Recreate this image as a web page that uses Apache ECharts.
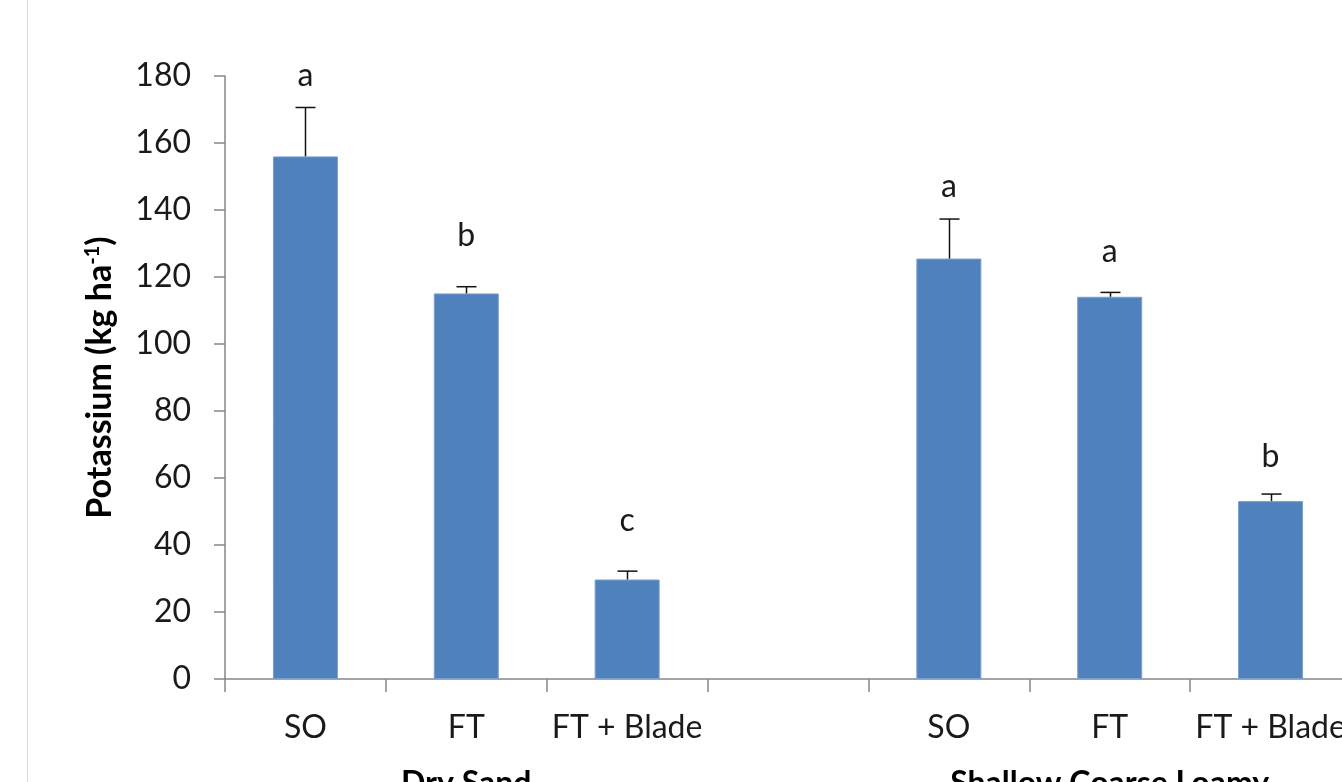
<!DOCTYPE html>
<html>
<head>
<meta charset="utf-8">
<script src="https://cdn.jsdelivr.net/npm/echarts@6/dist/echarts.min.js"></script>
<style>
html,body{margin:0;padding:0;background:#fff;overflow:hidden;width:1342px;height:782px;}
#chart{width:1360px;height:782px;}
</style>
</head>
<body>
<div id="chart"></div>
<script>
// ---- data ----
const categories = ['SO', 'FT', 'FT + Blade', '', 'SO', 'FT', 'FT + Blade'];
const groupLabels = ['', 'Dry Sand', '', '', '', 'Shallow Coarse Loamy', ''];
const potassium = [156, 115.1, 29.7, null, 125.5, 114.1, 53.1];
const stdErr = [14.6, 2.0, 2.5, null, 11.8, 1.3, 2.1];
const letters = ['a', 'b', 'c', '', 'a', 'a', 'b'];
const letterAt = [180, 132.2, 47.3, null, 147, 127.6, 66.3];
const yTicks = { min: 0, max: 180, interval: 20 };

const FONT = 'Lato, "Open Sans", sans-serif';
const AXIS = '#868686';

const chart = echarts.init(document.getElementById('chart'), null, { renderer: 'canvas' });

const option = {
  backgroundColor: '#fff',
  animation: false,
  grid: { left: 225, top: 76, width: 1126, height: 603, outerBoundsMode: 'none', containLabel: false },
  graphic: [{
    type: 'line', shape: { x1: 27.5, y1: 0, x2: 27.5, y2: 782 },
    style: { stroke: '#D9D9D9', lineWidth: 1 }
  }],
  xAxis: [{
    type: 'category',
    data: categories,
    position: 'bottom',
    axisLine: { lineStyle: { color: AXIS, width: 1.5 } },
    axisTick: { show: true, length: 13, lineStyle: { color: AXIS, width: 1.5 } },
    axisLabel: { interval: 0, color: '#1a1a1a', fontFamily: FONT, fontSize: 32, margin: 33 },
    splitLine: { show: false }
  }, {
    type: 'category',
    data: groupLabels,
    position: 'bottom',
    axisLine: { show: false },
    axisTick: { show: false },
    axisLabel: { interval: 0, color: '#000', fontFamily: FONT, fontSize: 32, fontWeight: 'bold', margin: 89 },
    splitLine: { show: false }
  }],
  yAxis: {
    type: 'value',
    min: yTicks.min, max: yTicks.max, interval: yTicks.interval,
    name: '{t|Potassium (kg ha}{s|-1}{t|)}',
    nameLocation: 'middle',
    nameGap: 108,
    nameRotate: 90,
    nameTextStyle: {
      rich: {
        t: { fontFamily: FONT, fontSize: 34, fontWeight: 'bold', color: '#000' },
        s: { fontFamily: FONT, fontSize: 20, fontWeight: 'bold', color: '#000', verticalAlign: 'top', padding: [0, 0, 12, 0] }
      }
    },
    axisLine: { show: true, lineStyle: { color: AXIS, width: 1.5 } },
    axisTick: { show: true, length: 11, lineStyle: { color: AXIS, width: 1.5 } },
    axisLabel: { color: '#1a1a1a', fontFamily: FONT, fontSize: 32, margin: 34 },
    splitLine: { show: false }
  },
  series: [{
    type: 'bar',
    xAxisIndex: 0,
    data: potassium.map(v => v == null ? '-' : v),
    barWidth: 65,
    itemStyle: { color: '#4F81BD', borderColor: '#7A9FD0', borderWidth: 1 }
  }, {
    type: 'custom',
    xAxisIndex: 0,
    data: potassium.map((v, i) => [i, v, stdErr[i]]),
    renderItem: function (params, api) {
      const v = api.value(1), e = api.value(2);
      if (v == null || isNaN(v)) return null;
      const p0 = api.coord([api.value(0), v]);
      const p1 = api.coord([api.value(0), v + e]);
      const x = Math.round(p0[0]) + 0.5;
      return {
        type: 'group',
        children: [
          { type: 'line', shape: { x1: x, y1: p0[1], x2: x, y2: p1[1] }, style: { stroke: '#111', lineWidth: 1.5 } },
          { type: 'line', shape: { x1: x - 10, y1: p1[1], x2: x + 10, y2: p1[1] }, style: { stroke: '#111', lineWidth: 1.5 } }
        ]
      };
    },
    z: 5
  }, {
    type: 'custom',
    xAxisIndex: 0,
    data: letterAt.map((v, i) => [i, v]),
    renderItem: function (params, api) {
      const v = api.value(1);
      if (v == null || isNaN(v)) return null;
      const p = api.coord([api.value(0), v]);
      return {
        type: 'text',
        x: p[0], y: p[1],
        style: {
          text: letters[params.dataIndex],
          fill: '#1a1a1a',
          font: '32px ' + FONT,
          align: 'center',
          verticalAlign: 'middle'
        }
      };
    },
    z: 6
  }]
};
chart.setOption(option);
</script>
</body>
</html>
